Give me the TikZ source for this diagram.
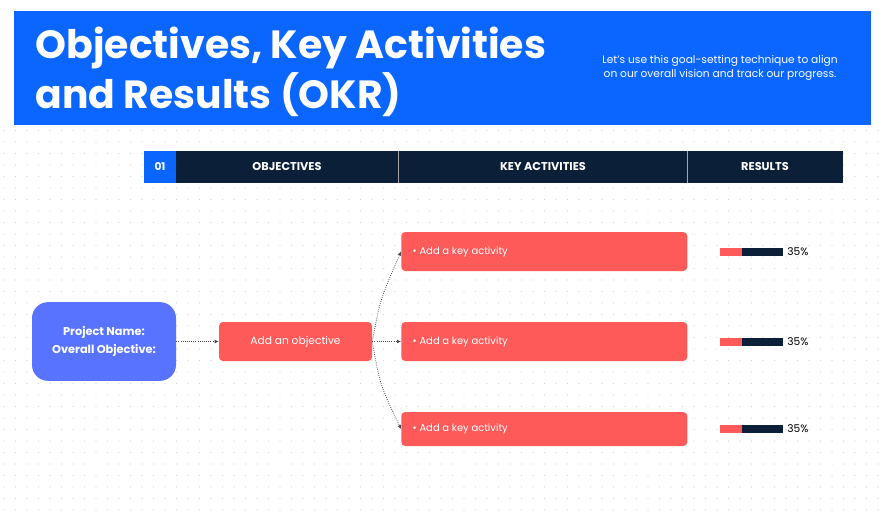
\documentclass[tikz,border=0pt]{standalone}
\usepackage{fontspec}
\setmainfont{Poppins}
\usetikzlibrary{arrows.meta}
\definecolor{hblue}{HTML}{0A66FF}
\definecolor{navy}{HTML}{0B1F38}
\definecolor{pblue}{HTML}{5873FF}
\definecolor{cred}{HTML}{FF5A5A}
\definecolor{dotc}{HTML}{D6D6D6}
\tikzset{
  redbox/.style={fill=cred,rounded corners=3pt,draw=none},
  hcell/.style={fill=navy,draw=none},
  htext/.style={text=white,font=\fontsize{8.5}{10}\selectfont\bfseries},
  conn/.style={densely dotted,draw=black!70,line width=0.6pt,-{Latex[length=3pt,width=3pt]}},
}
\begin{document}
\begin{tikzpicture}[x=0.75pt,y=-0.75pt]
\useasboundingbox (0,0) rectangle (885,518);
\fill[white] (0,0) rectangle (885,518);
\foreach \i in {0,...,76} {\foreach \j in {11,...,44} {\fill[dotc] (\i*11.5+4,\j*11.5+4) circle (0.55pt);}}
% header
\fill[hblue] (14,11) rectangle (871,125);
\node[anchor=west,text=white,font=\fontsize{29.5}{37.5}\selectfont\bfseries,align=left] (title) at (31,72) {Objectives, Key Activities\\and Results (OKR)};
\node[anchor=center,text=white,font=\fontsize{8}{10.5}\selectfont,align=center] (sub) at (720,68) {Let's use this goal-setting technique to align\\on our overall vision and track our progress.};
% table header
\fill[hblue] (144,151) rectangle (176,183);
\fill[navy] (176,151) rectangle (843,183);
\draw[gray!70,line width=0.8pt] (398.5,151) -- (398.5,183) (687.5,151) -- (687.5,183);
\node[htext,font=\fontsize{8}{9}\selectfont\bfseries] (n01) at (160,167) {01};
\node[htext] (hobj) at (287,167) {OBJECTIVES};
\node[htext] (hkey) at (543,167) {KEY ACTIVITIES};
\node[htext] (hres) at (765,167) {RESULTS};
% nodes
\node[fill=pblue,rounded corners=12pt,minimum width=108pt,minimum height=59pt,text=white,align=center,font=\fontsize{8.5}{13.5}\selectfont\bfseries] (proj) at (104,341.5) {Project Name:\\Overall Objective:};
\node[redbox,minimum width=114.75pt,minimum height=29.25pt,text=white,font=\fontsize{8}{10}\selectfont] (obj) at (295.5,341.5) {Add an objective};
\foreach \n/\y/\h in {a/251.5/29.25,b/341.5/29.25,c/429/25.5} {
  \node[redbox,minimum width=214.5pt,minimum height=\h pt,anchor=west] (k\n) at (401,\y) {};
  \node[anchor=west,text=white,font=\fontsize{7.5}{9}\selectfont] (t\n) at (408,\y) {\textbullet\ Add a key activity};
  \fill[navy] (742,\y-4) rectangle (783,\y+4);
  \fill[cred] (720,\y-4) rectangle (742,\y+4);
  \node[anchor=west,font=\fontsize{8}{10}\selectfont,inner sep=0pt] (p\n) at (787,\y) {35\%};
}
\draw[conn] (proj.east) -- (obj.west);
\draw[conn] (obj.east) -- (kb.west);
\draw[conn] (obj.east) .. controls (380,300) .. (ka.west);
\draw[conn] (obj.east) .. controls (380,385) .. (kc.west);
\end{tikzpicture}
\end{document}
